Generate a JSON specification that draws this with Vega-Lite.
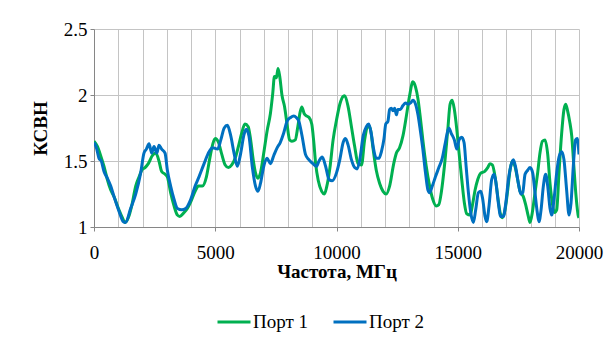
{
  "$schema": "https://vega.github.io/schema/vega-lite/v6.json",
  "autosize": {"type": "none"},
  "padding": {"left": 94, "top": 29, "right": 35, "bottom": 114},
  "width": 485,
  "height": 198,
  "background": "white",
  "config": {
    "view": {"stroke": null},
    "font": "Times New Roman, Liberation Serif, serif",
    "axis": {
      "labelFont": "Times New Roman, Liberation Serif, serif",
      "titleFont": "Times New Roman, Liberation Serif, serif",
      "labelFontSize": 19,
      "titleFontSize": 19,
      "titleFontWeight": "bold",
      "labelColor": "#000000",
      "titleColor": "#000000",
      "gridColor": "#c4c4c4",
      "gridWidth": 1,
      "domainColor": "#868686",
      "tickColor": "#868686",
      "tickSize": 4
    },
    "legend": {"labelFont": "Times New Roman, Liberation Serif, serif", "labelFontSize": 19, "labelColor": "#000000"}
  },
  "data": {
    "values": [
      {"f":0,"s":1.65,"p":"Порт 1"},{"f":140,"s":1.61,"p":"Порт 1"},{"f":275,"s":1.54,"p":"Порт 1"},{"f":410,"s":1.46,"p":"Порт 1"},{"f":550,"s":1.36,"p":"Порт 1"},{"f":690,"s":1.28,"p":"Порт 1"},{"f":825,"s":1.23,"p":"Порт 1"},{"f":1030,"s":1.13,"p":"Порт 1"},{"f":1170,"s":1.07,"p":"Порт 1"},{"f":1280,"s":1.035,"p":"Порт 1"},{"f":1415,"s":1.07,"p":"Порт 1"},{"f":1555,"s":1.16,"p":"Порт 1"},{"f":1720,"s":1.31,"p":"Порт 1"},{"f":1860,"s":1.38,"p":"Порт 1"},{"f":1970,"s":1.43,"p":"Порт 1"},{"f":2105,"s":1.45,"p":"Порт 1"},{"f":2240,"s":1.48,"p":"Порт 1"},{"f":2405,"s":1.54,"p":"Порт 1"},{"f":2545,"s":1.56,"p":"Порт 1"},{"f":2680,"s":1.5,"p":"Порт 1"},{"f":2790,"s":1.42,"p":"Порт 1"},{"f":2930,"s":1.4,"p":"Порт 1"},{"f":3025,"s":1.38,"p":"Порт 1"},{"f":3160,"s":1.26,"p":"Порт 1"},{"f":3300,"s":1.16,"p":"Порт 1"},{"f":3440,"s":1.09,"p":"Порт 1"},{"f":3535,"s":1.08,"p":"Порт 1"},{"f":3715,"s":1.11,"p":"Порт 1"},{"f":3850,"s":1.14,"p":"Порт 1"},{"f":3990,"s":1.19,"p":"Порт 1"},{"f":4170,"s":1.27,"p":"Порт 1"},{"f":4305,"s":1.31,"p":"Порт 1"},{"f":4470,"s":1.31,"p":"Порт 1"},{"f":4635,"s":1.38,"p":"Порт 1"},{"f":4775,"s":1.52,"p":"Порт 1"},{"f":4900,"s":1.63,"p":"Порт 1"},{"f":5000,"s":1.67,"p":"Порт 1"},{"f":5135,"s":1.64,"p":"Порт 1"},{"f":5270,"s":1.55,"p":"Порт 1"},{"f":5410,"s":1.47,"p":"Порт 1"},{"f":5545,"s":1.45,"p":"Порт 1"},{"f":5680,"s":1.47,"p":"Порт 1"},{"f":5820,"s":1.52,"p":"Порт 1"},{"f":5955,"s":1.61,"p":"Порт 1"},{"f":6090,"s":1.71,"p":"Порт 1"},{"f":6225,"s":1.78,"p":"Порт 1"},{"f":6360,"s":1.76,"p":"Порт 1"},{"f":6460,"s":1.66,"p":"Порт 1"},{"f":6565,"s":1.51,"p":"Порт 1"},{"f":6660,"s":1.41,"p":"Порт 1"},{"f":6760,"s":1.37,"p":"Порт 1"},{"f":6865,"s":1.41,"p":"Порт 1"},{"f":7000,"s":1.56,"p":"Порт 1"},{"f":7140,"s":1.73,"p":"Порт 1"},{"f":7275,"s":1.86,"p":"Порт 1"},{"f":7370,"s":2.01,"p":"Порт 1"},{"f":7440,"s":2.14,"p":"Порт 1"},{"f":7520,"s":2.13,"p":"Порт 1"},{"f":7590,"s":2.2,"p":"Порт 1"},{"f":7660,"s":2.14,"p":"Порт 1"},{"f":7750,"s":2.0,"p":"Порт 1"},{"f":7860,"s":1.91,"p":"Порт 1"},{"f":7960,"s":1.78,"p":"Порт 1"},{"f":8065,"s":1.66,"p":"Порт 1"},{"f":8160,"s":1.65,"p":"Порт 1"},{"f":8300,"s":1.66,"p":"Порт 1"},{"f":8405,"s":1.76,"p":"Порт 1"},{"f":8500,"s":1.87,"p":"Порт 1"},{"f":8570,"s":1.91,"p":"Порт 1"},{"f":8665,"s":1.86,"p":"Порт 1"},{"f":8775,"s":1.84,"p":"Порт 1"},{"f":8870,"s":1.83,"p":"Порт 1"},{"f":8980,"s":1.78,"p":"Порт 1"},{"f":9060,"s":1.65,"p":"Порт 1"},{"f":9140,"s":1.48,"p":"Порт 1"},{"f":9250,"s":1.35,"p":"Порт 1"},{"f":9390,"s":1.27,"p":"Порт 1"},{"f":9500,"s":1.25,"p":"Порт 1"},{"f":9590,"s":1.3,"p":"Порт 1"},{"f":9730,"s":1.45,"p":"Порт 1"},{"f":9860,"s":1.66,"p":"Порт 1"},{"f":10000,"s":1.81,"p":"Порт 1"},{"f":10137,"s":1.93,"p":"Порт 1"},{"f":10274,"s":1.99,"p":"Порт 1"},{"f":10340,"s":1.995,"p":"Порт 1"},{"f":10480,"s":1.91,"p":"Порт 1"},{"f":10616,"s":1.76,"p":"Порт 1"},{"f":10750,"s":1.61,"p":"Порт 1"},{"f":10890,"s":1.48,"p":"Порт 1"},{"f":11030,"s":1.47,"p":"Порт 1"},{"f":11160,"s":1.66,"p":"Порт 1"},{"f":11300,"s":1.77,"p":"Порт 1"},{"f":11400,"s":1.74,"p":"Порт 1"},{"f":11510,"s":1.59,"p":"Порт 1"},{"f":11640,"s":1.43,"p":"Порт 1"},{"f":11780,"s":1.33,"p":"Порт 1"},{"f":11920,"s":1.27,"p":"Порт 1"},{"f":12050,"s":1.25,"p":"Порт 1"},{"f":12190,"s":1.31,"p":"Порт 1"},{"f":12360,"s":1.48,"p":"Порт 1"},{"f":12470,"s":1.56,"p":"Порт 1"},{"f":12600,"s":1.6,"p":"Порт 1"},{"f":12740,"s":1.69,"p":"Порт 1"},{"f":12880,"s":1.84,"p":"Порт 1"},{"f":13010,"s":1.99,"p":"Порт 1"},{"f":13150,"s":2.1,"p":"Порт 1"},{"f":13260,"s":2.06,"p":"Порт 1"},{"f":13360,"s":1.97,"p":"Порт 1"},{"f":13450,"s":1.84,"p":"Порт 1"},{"f":13560,"s":1.66,"p":"Порт 1"},{"f":13700,"s":1.46,"p":"Порт 1"},{"f":13840,"s":1.31,"p":"Порт 1"},{"f":13970,"s":1.21,"p":"Порт 1"},{"f":14110,"s":1.16,"p":"Порт 1"},{"f":14220,"s":1.17,"p":"Порт 1"},{"f":14320,"s":1.26,"p":"Порт 1"},{"f":14450,"s":1.46,"p":"Порт 1"},{"f":14590,"s":1.74,"p":"Порт 1"},{"f":14685,"s":1.93,"p":"Порт 1"},{"f":14770,"s":1.96,"p":"Порт 1"},{"f":14860,"s":1.89,"p":"Порт 1"},{"f":14960,"s":1.74,"p":"Порт 1"},{"f":15055,"s":1.56,"p":"Порт 1"},{"f":15165,"s":1.36,"p":"Порт 1"},{"f":15275,"s":1.18,"p":"Порт 1"},{"f":15370,"s":1.1,"p":"Порт 1"},{"f":15510,"s":1.09,"p":"Порт 1"},{"f":15600,"s":1.16,"p":"Порт 1"},{"f":15715,"s":1.28,"p":"Порт 1"},{"f":15825,"s":1.36,"p":"Порт 1"},{"f":15960,"s":1.41,"p":"Порт 1"},{"f":16100,"s":1.42,"p":"Порт 1"},{"f":16235,"s":1.45,"p":"Порт 1"},{"f":16330,"s":1.48,"p":"Порт 1"},{"f":16430,"s":1.47,"p":"Порт 1"},{"f":16540,"s":1.38,"p":"Порт 1"},{"f":16650,"s":1.23,"p":"Порт 1"},{"f":16745,"s":1.11,"p":"Порт 1"},{"f":16840,"s":1.07,"p":"Порт 1"},{"f":16950,"s":1.13,"p":"Порт 1"},{"f":17060,"s":1.28,"p":"Порт 1"},{"f":17155,"s":1.43,"p":"Порт 1"},{"f":17250,"s":1.5,"p":"Порт 1"},{"f":17360,"s":1.46,"p":"Порт 1"},{"f":17470,"s":1.36,"p":"Порт 1"},{"f":17570,"s":1.27,"p":"Порт 1"},{"f":17705,"s":1.23,"p":"Порт 1"},{"f":17800,"s":1.17,"p":"Порт 1"},{"f":17910,"s":1.08,"p":"Порт 1"},{"f":17980,"s":1.035,"p":"Порт 1"},{"f":18075,"s":1.11,"p":"Порт 1"},{"f":18185,"s":1.26,"p":"Порт 1"},{"f":18295,"s":1.41,"p":"Порт 1"},{"f":18390,"s":1.56,"p":"Порт 1"},{"f":18490,"s":1.65,"p":"Порт 1"},{"f":18600,"s":1.66,"p":"Порт 1"},{"f":18710,"s":1.55,"p":"Порт 1"},{"f":18805,"s":1.33,"p":"Порт 1"},{"f":18900,"s":1.18,"p":"Порт 1"},{"f":18985,"s":1.11,"p":"Порт 1"},{"f":19080,"s":1.13,"p":"Порт 1"},{"f":19175,"s":1.41,"p":"Порт 1"},{"f":19285,"s":1.71,"p":"Порт 1"},{"f":19380,"s":1.89,"p":"Порт 1"},{"f":19450,"s":1.93,"p":"Порт 1"},{"f":19530,"s":1.88,"p":"Порт 1"},{"f":19615,"s":1.8,"p":"Порт 1"},{"f":19700,"s":1.69,"p":"Порт 1"},{"f":19795,"s":1.44,"p":"Порт 1"},{"f":19880,"s":1.23,"p":"Порт 1"},{"f":19975,"s":1.08,"p":"Порт 1"},{"f":20000,"s":1.07,"p":"Порт 1"},
      {"f":0,"s":1.64,"p":"Порт 2"},{"f":100,"s":1.6,"p":"Порт 2"},{"f":206,"s":1.52,"p":"Порт 2"},{"f":300,"s":1.5,"p":"Порт 2"},{"f":413,"s":1.42,"p":"Порт 2"},{"f":550,"s":1.37,"p":"Порт 2"},{"f":690,"s":1.31,"p":"Порт 2"},{"f":825,"s":1.23,"p":"Порт 2"},{"f":1030,"s":1.12,"p":"Порт 2"},{"f":1210,"s":1.04,"p":"Порт 2"},{"f":1300,"s":1.035,"p":"Порт 2"},{"f":1510,"s":1.14,"p":"Порт 2"},{"f":1720,"s":1.25,"p":"Порт 2"},{"f":1925,"s":1.41,"p":"Порт 2"},{"f":2060,"s":1.56,"p":"Порт 2"},{"f":2160,"s":1.59,"p":"Порт 2"},{"f":2270,"s":1.63,"p":"Порт 2"},{"f":2380,"s":1.56,"p":"Порт 2"},{"f":2475,"s":1.61,"p":"Порт 2"},{"f":2590,"s":1.56,"p":"Порт 2"},{"f":2680,"s":1.62,"p":"Порт 2"},{"f":2790,"s":1.59,"p":"Порт 2"},{"f":2930,"s":1.56,"p":"Порт 2"},{"f":3025,"s":1.43,"p":"Порт 2"},{"f":3160,"s":1.31,"p":"Порт 2"},{"f":3300,"s":1.21,"p":"Порт 2"},{"f":3440,"s":1.14,"p":"Порт 2"},{"f":3620,"s":1.13,"p":"Порт 2"},{"f":3780,"s":1.14,"p":"Порт 2"},{"f":3990,"s":1.21,"p":"Порт 2"},{"f":4170,"s":1.31,"p":"Порт 2"},{"f":4330,"s":1.38,"p":"Порт 2"},{"f":4540,"s":1.48,"p":"Порт 2"},{"f":4745,"s":1.57,"p":"Порт 2"},{"f":4890,"s":1.6,"p":"Порт 2"},{"f":5095,"s":1.59,"p":"Порт 2"},{"f":5230,"s":1.66,"p":"Порт 2"},{"f":5370,"s":1.75,"p":"Порт 2"},{"f":5500,"s":1.77,"p":"Порт 2"},{"f":5640,"s":1.69,"p":"Порт 2"},{"f":5775,"s":1.56,"p":"Порт 2"},{"f":5910,"s":1.46,"p":"Порт 2"},{"f":6050,"s":1.56,"p":"Порт 2"},{"f":6185,"s":1.7,"p":"Порт 2"},{"f":6280,"s":1.74,"p":"Порт 2"},{"f":6390,"s":1.69,"p":"Порт 2"},{"f":6525,"s":1.46,"p":"Порт 2"},{"f":6660,"s":1.31,"p":"Порт 2"},{"f":6760,"s":1.27,"p":"Порт 2"},{"f":6865,"s":1.33,"p":"Порт 2"},{"f":7000,"s":1.46,"p":"Порт 2"},{"f":7140,"s":1.52,"p":"Порт 2"},{"f":7275,"s":1.48,"p":"Порт 2"},{"f":7410,"s":1.54,"p":"Порт 2"},{"f":7550,"s":1.6,"p":"Порт 2"},{"f":7680,"s":1.64,"p":"Порт 2"},{"f":7820,"s":1.71,"p":"Порт 2"},{"f":7960,"s":1.8,"p":"Порт 2"},{"f":8110,"s":1.83,"p":"Порт 2"},{"f":8240,"s":1.84,"p":"Порт 2"},{"f":8340,"s":1.83,"p":"Порт 2"},{"f":8450,"s":1.8,"p":"Порт 2"},{"f":8580,"s":1.69,"p":"Порт 2"},{"f":8720,"s":1.55,"p":"Порт 2"},{"f":8860,"s":1.51,"p":"Порт 2"},{"f":9030,"s":1.48,"p":"Порт 2"},{"f":9170,"s":1.46,"p":"Порт 2"},{"f":9280,"s":1.5,"p":"Порт 2"},{"f":9410,"s":1.53,"p":"Порт 2"},{"f":9550,"s":1.46,"p":"Порт 2"},{"f":9690,"s":1.36,"p":"Порт 2"},{"f":9820,"s":1.35,"p":"Порт 2"},{"f":10000,"s":1.41,"p":"Порт 2"},{"f":10137,"s":1.51,"p":"Порт 2"},{"f":10274,"s":1.64,"p":"Порт 2"},{"f":10370,"s":1.67,"p":"Порт 2"},{"f":10480,"s":1.62,"p":"Порт 2"},{"f":10616,"s":1.51,"p":"Порт 2"},{"f":10750,"s":1.45,"p":"Порт 2"},{"f":10850,"s":1.44,"p":"Порт 2"},{"f":10960,"s":1.51,"p":"Порт 2"},{"f":11100,"s":1.69,"p":"Порт 2"},{"f":11230,"s":1.76,"p":"Порт 2"},{"f":11330,"s":1.78,"p":"Порт 2"},{"f":11440,"s":1.7,"p":"Порт 2"},{"f":11530,"s":1.59,"p":"Порт 2"},{"f":11640,"s":1.52,"p":"Порт 2"},{"f":11750,"s":1.52,"p":"Порт 2"},{"f":11850,"s":1.57,"p":"Порт 2"},{"f":11960,"s":1.67,"p":"Порт 2"},{"f":12030,"s":1.78,"p":"Порт 2"},{"f":12120,"s":1.8,"p":"Порт 2"},{"f":12190,"s":1.89,"p":"Порт 2"},{"f":12260,"s":1.9,"p":"Порт 2"},{"f":12330,"s":1.88,"p":"Порт 2"},{"f":12400,"s":1.9,"p":"Порт 2"},{"f":12470,"s":1.85,"p":"Порт 2"},{"f":12530,"s":1.89,"p":"Порт 2"},{"f":12630,"s":1.89,"p":"Порт 2"},{"f":12740,"s":1.92,"p":"Порт 2"},{"f":12850,"s":1.94,"p":"Порт 2"},{"f":12950,"s":1.93,"p":"Порт 2"},{"f":13055,"s":1.94,"p":"Порт 2"},{"f":13150,"s":1.96,"p":"Порт 2"},{"f":13260,"s":1.93,"p":"Порт 2"},{"f":13360,"s":1.85,"p":"Порт 2"},{"f":13450,"s":1.74,"p":"Порт 2"},{"f":13560,"s":1.59,"p":"Порт 2"},{"f":13670,"s":1.41,"p":"Порт 2"},{"f":13770,"s":1.28,"p":"Порт 2"},{"f":13840,"s":1.26,"p":"Порт 2"},{"f":13950,"s":1.31,"p":"Порт 2"},{"f":14080,"s":1.38,"p":"Порт 2"},{"f":14220,"s":1.45,"p":"Порт 2"},{"f":14360,"s":1.52,"p":"Порт 2"},{"f":14490,"s":1.64,"p":"Порт 2"},{"f":14630,"s":1.75,"p":"Порт 2"},{"f":14730,"s":1.71,"p":"Порт 2"},{"f":14860,"s":1.66,"p":"Порт 2"},{"f":14960,"s":1.59,"p":"Порт 2"},{"f":15055,"s":1.66,"p":"Порт 2"},{"f":15165,"s":1.68,"p":"Порт 2"},{"f":15260,"s":1.64,"p":"Порт 2"},{"f":15345,"s":1.46,"p":"Порт 2"},{"f":15440,"s":1.26,"p":"Порт 2"},{"f":15535,"s":1.11,"p":"Порт 2"},{"f":15645,"s":1.035,"p":"Порт 2"},{"f":15740,"s":1.13,"p":"Порт 2"},{"f":15850,"s":1.26,"p":"Порт 2"},{"f":15950,"s":1.27,"p":"Порт 2"},{"f":16030,"s":1.21,"p":"Порт 2"},{"f":16125,"s":1.08,"p":"Порт 2"},{"f":16195,"s":1.04,"p":"Порт 2"},{"f":16290,"s":1.16,"p":"Порт 2"},{"f":16400,"s":1.36,"p":"Порт 2"},{"f":16500,"s":1.4,"p":"Порт 2"},{"f":16580,"s":1.33,"p":"Порт 2"},{"f":16675,"s":1.18,"p":"Порт 2"},{"f":16770,"s":1.08,"p":"Порт 2"},{"f":16880,"s":1.08,"p":"Порт 2"},{"f":16980,"s":1.18,"p":"Порт 2"},{"f":17090,"s":1.36,"p":"Порт 2"},{"f":17200,"s":1.47,"p":"Порт 2"},{"f":17295,"s":1.51,"p":"Порт 2"},{"f":17390,"s":1.45,"p":"Порт 2"},{"f":17500,"s":1.33,"p":"Порт 2"},{"f":17600,"s":1.25,"p":"Порт 2"},{"f":17680,"s":1.26,"p":"Порт 2"},{"f":17775,"s":1.4,"p":"Порт 2"},{"f":17885,"s":1.43,"p":"Порт 2"},{"f":17980,"s":1.45,"p":"Порт 2"},{"f":18090,"s":1.41,"p":"Порт 2"},{"f":18185,"s":1.26,"p":"Порт 2"},{"f":18280,"s":1.11,"p":"Порт 2"},{"f":18350,"s":1.04,"p":"Порт 2"},{"f":18435,"s":1.13,"p":"Порт 2"},{"f":18530,"s":1.31,"p":"Порт 2"},{"f":18625,"s":1.4,"p":"Порт 2"},{"f":18710,"s":1.31,"p":"Порт 2"},{"f":18805,"s":1.14,"p":"Порт 2"},{"f":18875,"s":1.09,"p":"Порт 2"},{"f":18970,"s":1.21,"p":"Порт 2"},{"f":19080,"s":1.41,"p":"Порт 2"},{"f":19175,"s":1.53,"p":"Порт 2"},{"f":19285,"s":1.57,"p":"Порт 2"},{"f":19380,"s":1.51,"p":"Порт 2"},{"f":19490,"s":1.28,"p":"Порт 2"},{"f":19590,"s":1.09,"p":"Порт 2"},{"f":19670,"s":1.18,"p":"Порт 2"},{"f":19765,"s":1.46,"p":"Порт 2"},{"f":19860,"s":1.66,"p":"Порт 2"},{"f":19930,"s":1.67,"p":"Порт 2"},{"f":20000,"s":1.55,"p":"Порт 2"}
    ]
  },
  "mark": {"type": "line", "strokeWidth": 3, "interpolate": "monotone", "clip": true},
  "encoding": {
    "x": {
      "field": "f", "type": "quantitative",
      "scale": {"domain": [0, 20000], "nice": false, "zero": false},
      "axis": {
        "title": "Частота, МГц",
        "values": [0,1000,2000,3000,4000,5000,6000,7000,8000,9000,10000,11000,12000,13000,14000,15000,16000,17000,18000,19000,20000],
        "labelExpr": "datum.value % 5000 === 0 ? format(datum.value, 'd') : ''",
        "tickOpacity": {"condition": {"test": "datum.value % 5000 === 0", "value": 1}, "value": 0},
        "labelPadding": 12,
        "titlePadding": 0,
        "labelFlush": false
      }
    },
    "y": {
      "field": "s", "type": "quantitative",
      "scale": {"domain": [1, 2.5], "nice": false, "zero": false},
      "axis": {
        "title": "КСВН",
        "values": [1, 1.5, 2, 2.5],
        "format": "~g",
        "labelPadding": 3,
        "titlePadding": 13
      }
    },
    "color": {
      "field": "p", "type": "nominal",
      "scale": {"domain": ["Порт 1", "Порт 2"], "range": ["#00B050", "#0070C0"]},
      "legend": {
        "title": null,
        "orient": "none",
        "direction": "horizontal",
        "legendX": 122,
        "legendY": 275,
        "symbolType": "stroke",
        "symbolSize": 1089,
        "symbolStrokeWidth": 3,
        "labelOffset": 1,
        "columnPadding": 18
      }
    }
  }
}
